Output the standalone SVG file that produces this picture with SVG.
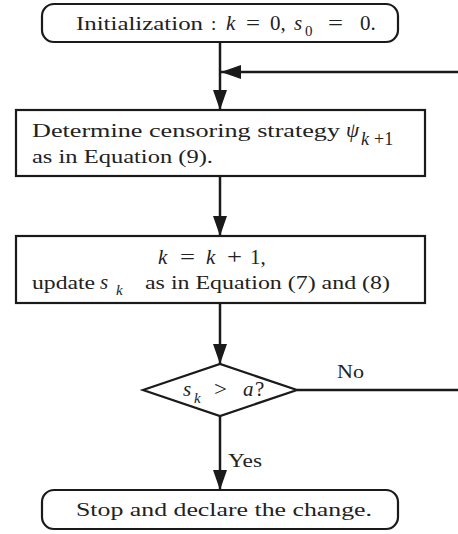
<svg xmlns="http://www.w3.org/2000/svg" width="458" height="534" viewBox="0 0 458 534">
<style>
.box{fill:#fff;stroke:#1a1a1a;stroke-width:2.2}
.ln{fill:none;stroke:#1a1a1a;stroke-width:2.5}
.t{font-family:"Liberation Serif","DejaVu Serif",serif;font-size:19px;fill:#222}
.m{font-style:italic}
.s{font-size:15px}
.op{font-size:21px}
</style>
<defs>
<marker id="ah" viewBox="0 0 20 14" refX="20" refY="7" markerWidth="20" markerHeight="14" markerUnits="userSpaceOnUse" orient="auto">
<path d="M0,0 L20,7 L0,14 Z" fill="#1a1a1a"/>
</marker>
</defs>
<rect width="458" height="534" fill="#fff"/>
<g id="connectors">
<line class="ln" x1="220" y1="42" x2="220" y2="110" marker-end="url(#ah)"/>
<line class="ln" x1="458" y1="72" x2="221" y2="72" marker-end="url(#ah)"/>
<line class="ln" x1="220" y1="176" x2="220" y2="236" marker-end="url(#ah)"/>
<line class="ln" x1="220" y1="303" x2="220" y2="364" marker-end="url(#ah)"/>
<line class="ln" x1="297" y1="390" x2="458" y2="390"/>
<line class="ln" x1="220" y1="416" x2="220" y2="490" marker-end="url(#ah)"/>
<text class="t" x="337" y="378" textLength="27" lengthAdjust="spacingAndGlyphs">No</text>
<text class="t" x="228" y="467" textLength="34" lengthAdjust="spacingAndGlyphs">Yes</text>
</g>
<g id="init">
<rect class="box" x="42" y="4" width="356" height="38" rx="12"/>
<text class="t" x="76" y="30" textLength="127" lengthAdjust="spacingAndGlyphs">Initialization</text>
<text class="t" x="211" y="30">:</text>
<text class="t m op" x="226" y="30">k</text>
<text class="t op" x="246" y="30" textLength="14" lengthAdjust="spacingAndGlyphs">=</text>
<text class="t op" x="270" y="30">0,</text>
<text class="t m op" x="294" y="30">s</text>
<text class="t s" x="305" y="36">0</text>
<text class="t op" x="328" y="30" textLength="15" lengthAdjust="spacingAndGlyphs">=</text>
<text class="t op" x="360" y="30">0.</text>
</g>
<g id="censor">
<rect class="box" x="16" y="110" width="409" height="66"/>
<text class="t" x="32" y="137" textLength="308" lengthAdjust="spacingAndGlyphs">Determine censoring strategy</text>
<text class="t m op" x="346" y="137">ψ</text>
<text class="t m" x="361" y="145" style="font-size:18px">k</text>
<text class="t" x="374" y="145" style="font-size:18px">+1</text>
<text class="t" x="32" y="163" textLength="181" lengthAdjust="spacingAndGlyphs">as in Equation (9).</text>
</g>
<g id="update">
<rect class="box" x="16" y="236" width="409" height="67"/>
<text class="t m op" x="158" y="264">k</text>
<text class="t op" x="180" y="264" textLength="15" lengthAdjust="spacingAndGlyphs">=</text>
<text class="t m op" x="206" y="264">k</text>
<text class="t op" x="227" y="264" textLength="15" lengthAdjust="spacingAndGlyphs">+</text>
<text class="t op" x="250" y="264">1,</text>
<text class="t" x="32" y="289" textLength="63" lengthAdjust="spacingAndGlyphs">update</text>
<text class="t m op" x="100" y="289">s</text>
<text class="t m s" x="116" y="295">k</text>
<text class="t" x="145" y="289" textLength="245" lengthAdjust="spacingAndGlyphs">as in Equation (7) and (8)</text>
</g>
<g id="decision">
<polygon class="box" points="143,390 220,364 297,390 220,416" stroke-width="2.5"/>
<text class="t m op" x="183" y="396">s</text>
<text class="t m s" x="194" y="403">k</text>
<text class="t op" x="214" y="396" textLength="13" lengthAdjust="spacingAndGlyphs">&gt;</text>
<text class="t m op" x="243" y="396">a</text>
<text class="t op" x="255" y="396">?</text>
</g>
<g id="stop">
<rect class="box" x="42" y="490" width="356" height="39" rx="12"/>
<text class="t" x="76" y="516" textLength="296" lengthAdjust="spacingAndGlyphs">Stop and declare the change.</text>
</g>
</svg>
